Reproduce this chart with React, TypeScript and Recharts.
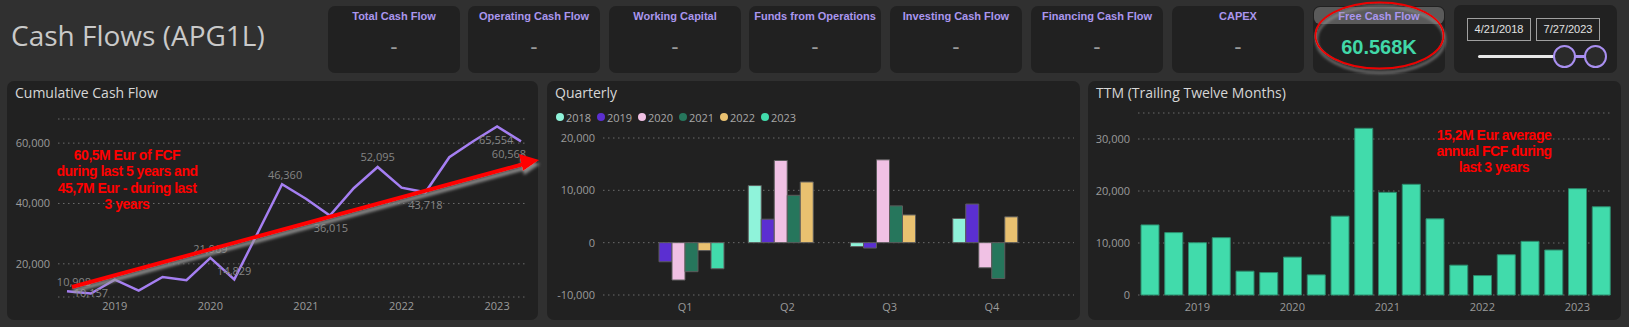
import React from 'react';
import {
  Bar,
  BarChart,
  CartesianGrid,
  LabelList,
  Line,
  LineChart,
  XAxis,
  YAxis
} from 'recharts';

// quarter ends shown on the cumulative and TTM charts
const PERIODS = [
  '2018 Q2', '2018 Q3', '2018 Q4',
  '2019 Q1', '2019 Q2', '2019 Q3', '2019 Q4',
  '2020 Q1', '2020 Q2', '2020 Q3', '2020 Q4',
  '2021 Q1', '2021 Q2', '2021 Q3', '2021 Q4',
  '2022 Q1', '2022 Q2', '2022 Q3', '2022 Q4',
  '2023 Q1'
];
const CUMULATIVE_FCF = [
  10908, 10157, 14777, 11127, 15617, 14587, 21969, 14829, 30529, 46360,
  41560, 36015, 45065, 52095, 45235, 43718, 55318, 60618, 65554, 60568
];
const TTM_FCF = [
  13480, 12000, 10060, 11030, 4580, 4320, 7290, 3870, 15160, 32060,
  19740, 21290, 14650, 5740, 3740, 7740, 10320, 8650, 20450, 16970
];
const YEAR_TICK_PERIODS = ['2018 Q4', '2019 Q4', '2020 Q4', '2021 Q4', '2022 Q4'];
const YEAR_TICK_LABELS = ['2019', '2020', '2021', '2022', '2023'];

const QUARTERS = ['Q1', 'Q2', 'Q3', 'Q4'];
const YEARS = ['2018', '2019', '2020', '2021', '2022', '2023'];
const FCF_2018 = [null, 10908, -751, 4620];
const FCF_2019 = [-3650, 4490, -1030, 7382];
const FCF_2020 = [-7140, 15700, 15831, -4800];
const FCF_2021 = [-5545, 9050, 7030, -6860];
const FCF_2022 = [-1517, 11600, 5300, 4936];
const FCF_2023 = [-4986, null, null, null];
const QUARTERLY_BY_YEAR = [FCF_2018, FCF_2019, FCF_2020, FCF_2021, FCF_2022, FCF_2023];
const YEAR_COLORS = ['#8ff3da', '#5b2fd1', '#f0c1e4', '#26765c', '#e9c170', '#41dbab'];

const KPI_TITLES = [
  'Total Cash Flow', 'Operating Cash Flow', 'Working Capital', 'Funds from Operations',
  'Investing Cash Flow', 'Financing Cash Flow', 'CAPEX', 'Free Cash Flow'
];
const KPI_VALUES = ['-', '-', '-', '-', '-', '-', '-', '60.568K'];
const DATE_RANGE = ['4/21/2018', '7/27/2023'];

const CUM_NOTE = ['60,5M Eur of FCF', 'during last 5 years and', '45,7M Eur - during last', '3 years'];
const TTM_NOTE = ['15,2M Eur average', 'annual FCF during', 'last 3 years'];

// which points of the cumulative line carry a value label, and where
const CUM_LABEL_OFFSETS: Record<number, [number, number]> = {
  0: [7, -10], 1: [0, -1], 6: [0, -9], 7: [0, -9], 9: [3, -10],
  11: [1, 12], 13: [0, -10], 15: [0, 12], 18: [-1, 13], 19: [-12, 12]
};

const cumData = PERIODS.map((p, i) => ({ idx: i, period: p, value: CUMULATIVE_FCF[i] }));
const ttmData = PERIODS.map((p, i) => ({ period: p, value: TTM_FCF[i] }));
const quarterlyData = QUARTERS.map((q, qi) => {
  const row: Record<string, any> = { quarter: q };
  YEARS.forEach((y, yi) => { row[y] = QUARTERLY_BY_YEAR[yi][qi]; });
  return row;
});

const BG = '#303030';
const PANEL = '#212121';
const LAVENDER = '#aa96ee';
const TICK = { fill: '#9b9b9b', fontSize: 11, fontFamily: 'Open Sans' };
const fmt = (v: number) => Number(v).toLocaleString('en-US');
const yearTick = (p: string) => {
  const i = YEAR_TICK_PERIODS.indexOf(p);
  return i >= 0 ? YEAR_TICK_LABELS[i] : '';
};

function CumLabel(props: any) {
  const x = props.x ?? props.viewBox?.x;
  const y = props.y ?? props.viewBox?.y;
  const off = CUM_LABEL_OFFSETS[props.index];
  if (!off) return <g />;
  return (
    <text x={x + off[0]} y={y + off[1]} textAnchor="middle" dominantBaseline="central"
      fill="#858585" fontSize={11} fontFamily="Open Sans">
      {fmt(props.value)}
    </text>
  );
}

const panelStyle = (left: number, width: number): React.CSSProperties => ({
  position: 'absolute', left, top: 81, width, height: 239, background: PANEL, borderRadius: 7
});
const panelTitle: React.CSSProperties = {
  position: 'absolute', left: 8, top: 2, lineHeight: '20px', fontSize: 14,
  fontFamily: 'Open Sans', color: '#d6d6d6', whiteSpace: 'nowrap'
};

export default function App() {
  const cardLefts = [328, 468, 609, 749, 890, 1031, 1172, 1313];
  return (
    <div style={{ position: 'absolute', left: 0, top: 0, width: 1629, height: 327, background: BG, overflow: 'hidden' }}>
      <div style={{ position: 'absolute', left: 11, top: 16, lineHeight: '38px', fontSize: 28, fontFamily: 'Open Sans', color: '#c9c9c9', whiteSpace: 'nowrap' }}>
        Cash Flows (APG1L)
      </div>

      {KPI_TITLES.map((t, i) => {
        const isFcf = i === KPI_TITLES.length - 1;
        return (
          <div key={t} style={{ position: 'absolute', left: cardLefts[i], top: 6, width: 132, height: 67, background: PANEL, borderRadius: 7 }}>
            {isFcf && <div style={{ position: 'absolute', left: 1, top: 1, width: 130, height: 17, background: '#5a5a5a', borderRadius: 6 }} />}
            <div style={{ position: 'absolute', left: 0, top: 3, width: 132, textAlign: 'center', lineHeight: '15px', fontSize: 11, fontWeight: 'bold', fontFamily: 'Liberation Sans, Arial', color: LAVENDER, whiteSpace: 'nowrap' }}>{t}</div>
            <div style={{ position: 'absolute', left: 0, top: 28, width: 132, textAlign: 'center', lineHeight: '26px', fontSize: isFcf ? 20 : 22, fontWeight: isFcf ? 'bold' : 'normal', fontFamily: 'Liberation Sans, Arial', color: isFcf ? '#41d8a8' : '#9a9a9a' }}>{KPI_VALUES[i]}</div>
          </div>
        );
      })}

      <div style={{ position: 'absolute', left: 1454, top: 5, width: 163, height: 68, background: PANEL, borderRadius: 7 }}>
        {DATE_RANGE.map((d, i) => (
          <div key={d} style={{ position: 'absolute', left: 13 + i * 69, top: 13, width: 62, height: 21, border: '1px solid #a0a0a0', color: '#e2e2e2', fontSize: 11, fontFamily: 'Liberation Sans, Arial', lineHeight: '21px', textAlign: 'center' }}>{d}</div>
        ))}
        <div style={{ position: 'absolute', left: 24, top: 50, width: 86, height: 3, background: '#e8e8e8', borderRadius: 2 }} />
        <div style={{ position: 'absolute', left: 110, top: 50, width: 31, height: 3, background: '#a98ff0' }} />
        {[110, 141].map((cx) => (
          <div key={cx} style={{ position: 'absolute', left: cx - 11, top: 40, width: 19, height: 19, borderRadius: '50%', border: '2px solid #a98ff0', background: '#2a2a2a' }} />
        ))}
      </div>

      <div style={panelStyle(7, 531)}>
        <div style={panelTitle}>Cumulative Cash Flow</div>
        <LineChart width={531} height={239} data={cumData} margin={{ top: 38, right: 10, bottom: 0, left: 0 }}>
          <CartesianGrid horizontal vertical={false} stroke="#6b6b6b" strokeDasharray="1.5 3.5" />
          <XAxis type="number" dataKey="idx" domain={[0, PERIODS.length - 1]}
            ticks={YEAR_TICK_PERIODS.map((p) => PERIODS.indexOf(p))}
            tickFormatter={(v: number) => yearTick(PERIODS[v])}
            padding={{ left: 9, right: 7 }} axisLine={false} tickLine={false}
            tickSize={3} tickMargin={2} height={23} tick={TICK} />
          <YAxis type="number" domain={[9000, 68000]} ticks={[20000, 40000, 60000]}
            tickFormatter={fmt} width={51} axisLine={false} tickLine={false} tick={TICK} />
          <Line type="linear" dataKey="value" stroke="#a57ff2" strokeWidth={2.5} dot={false} isAnimationActive={false}>
            <LabelList dataKey="value" content={CumLabel} />
          </Line>
        </LineChart>
      </div>

      <div style={panelStyle(547, 533)}>
        <div style={panelTitle}>Quarterly</div>
        {YEARS.map((y, i) => (
          <div key={y} style={{ position: 'absolute', left: 9 + i * 41, top: 28, height: 16, display: 'flex', alignItems: 'center', whiteSpace: 'nowrap' }}>
            <span style={{ display: 'inline-block', width: 8, height: 8, borderRadius: '50%', background: YEAR_COLORS[i], marginRight: 2 }} />
            <span style={{ fontSize: 11, fontFamily: 'Open Sans', color: '#a8a8a8' }}>{y}</span>
          </div>
        ))}
        <BarChart width={533} height={239} data={quarterlyData} barGap={0} margin={{ top: 57, right: 6, bottom: 0, left: 0 }}>
          <CartesianGrid horizontal vertical={false} stroke="#6b6b6b" strokeDasharray="1.5 3.5" />
          <XAxis dataKey="quarter" padding={{ left: 31, right: 31 }} axisLine={false} tickLine={false} height={25} tick={TICK} />
          <YAxis type="number" domain={[-10000, 20000]} ticks={[-10000, 0, 10000, 20000]}
            tickFormatter={fmt} width={56} axisLine={false} tickLine={false} tick={TICK} />
          {YEARS.map((y, i) => (
            <Bar key={y} dataKey={y} fill={YEAR_COLORS[i]} stroke="#5c5c5c" strokeWidth={1} barSize={13} isAnimationActive={false} />
          ))}
        </BarChart>
      </div>

      <div style={panelStyle(1088, 533)}>
        <div style={panelTitle}>TTM (Trailing Twelve Months)</div>
        <BarChart width={533} height={239} data={ttmData} margin={{ top: 32, right: 8, bottom: 0, left: 0 }}>
          <CartesianGrid horizontal vertical={false} stroke="#6b6b6b" strokeDasharray="1.5 3.5" />
          <XAxis dataKey="period" interval={0} tickFormatter={yearTick} axisLine={false} tickLine={false} height={25} tick={TICK} />
          <YAxis type="number" domain={[0, 35000]} ticks={[0, 10000, 20000, 30000]}
            tickFormatter={fmt} width={50} axisLine={false} tickLine={false} tick={TICK} />
          <Bar dataKey="value" fill="#41dbab" stroke="#2c8a6c" strokeWidth={1} barSize={18} isAnimationActive={false} />
        </BarChart>
      </div>

      <svg width={1629} height={327} style={{ position: 'absolute', left: 0, top: 0, pointerEvents: 'none' }}>
        <defs>
          <filter id="shadow" x="-20%" y="-50%" width="140%" height="200%">
            <feDropShadow dx="1" dy="4" stdDeviation="1.8" floodColor="#9a9a9a" floodOpacity="0.85" />
          </filter>
        </defs>
        <g filter="url(#shadow)">
          <line x1={72} y1={287} x2={524} y2={164} stroke="#ff0000" strokeWidth={4} />
          <polygon points="539,160 519,154 523,171" fill="#ff0000" />
        </g>
        <ellipse cx={1379.5} cy={35.5} rx={64} ry={33} fill="none" stroke="#ee0000" strokeWidth={2} filter="url(#shadow)" />
        <g fontFamily="Liberation Sans, Arial" fontWeight="bold" fontSize={14} fill="#ff0000" textAnchor="middle" style={{ letterSpacing: '-0.5px' }}>
          {CUM_NOTE.map((t, i) => (
            <text key={t} x={127} y={160 + i * 16.3}>{t}</text>
          ))}
          {TTM_NOTE.map((t, i) => (
            <text key={t} x={1494} y={140 + i * 16}>{t}</text>
          ))}
        </g>
      </svg>
    </div>
  );
}
